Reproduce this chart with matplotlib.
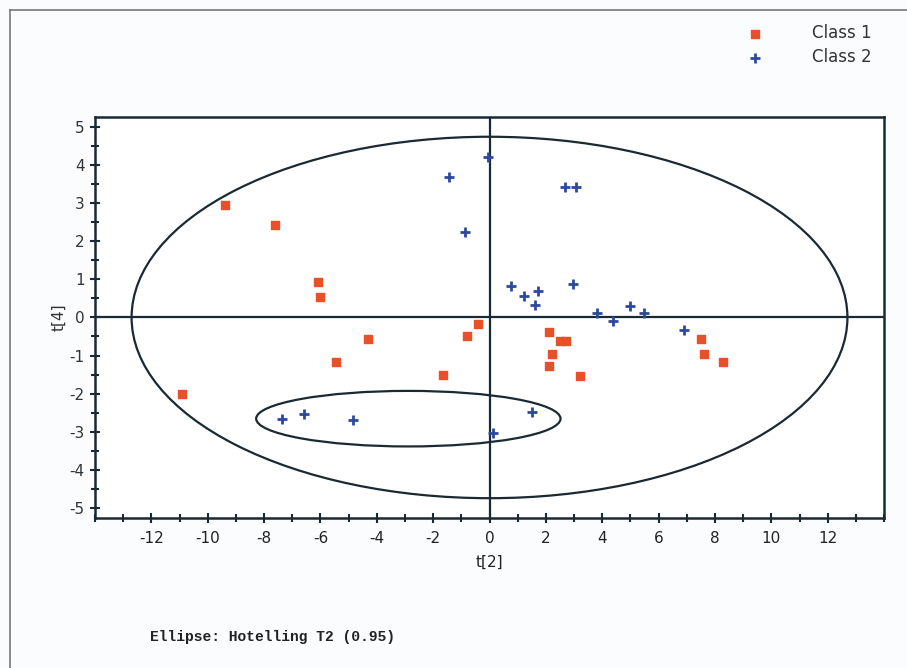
import numpy as np
import matplotlib.pyplot as plt
from matplotlib.patches import Ellipse

plt.rcParams['axes.unicode_minus'] = False

# class 1 scores (t[2], t[4])
class1_t2 = [-10.9, -9.4, -7.6, -6.1, -6.0, -5.45, -4.3, -1.65, -0.8, -0.4,
             2.1, 2.2, 2.1, 2.5, 2.7, 3.2, 7.5, 7.6, 8.3]
class1_t4 = [-2.0, 2.95, 2.43, 0.94, 0.55, -1.17, -0.57, -1.51, -0.5, -0.16,
             -0.39, -0.97, -1.28, -0.63, -0.63, -1.54, -0.57, -0.97, -1.17]

# class 2 scores
class2_t2 = [-0.07, -1.42, -0.88, 2.69, 3.08, 0.78, 1.24, 1.73, 1.63, 2.97,
             3.82, 4.39, 4.99, 5.49, 6.9, 1.52, 0.14, -7.36, -6.58, -4.85]
class2_t4 = [4.23, 3.68, 2.25, 3.42, 3.42, 0.84, 0.57, 0.7, 0.34, 0.89,
             0.13, -0.08, 0.29, 0.13, -0.34, -2.48, -3.03, -2.66, -2.53, -2.69]

# hotelling ellipse and the small class 2 ellipse: centre, width, height
big_ellipse = (0.0, 0.0, 25.4, 9.5)
small_ellipse = (-2.88, -2.66, 10.8, 1.46)

orange = '#e8502a'
blue = '#2b4a9c'

fig = plt.figure(figsize=(9.07, 6.68), dpi=100)
fig.patch.set_facecolor('#fbfcfe')
ax = fig.add_axes([0.1047, 0.2246, 0.87, 0.6003])
ax.set_facecolor('white')

# frame line on top and left of the page
fig.add_artist(plt.Line2D([10 / 907, 1], [1 - 10 / 668, 1 - 10 / 668],
                          transform=fig.transFigure, color='#777777', lw=1.2))
fig.add_artist(plt.Line2D([10 / 907, 10 / 907], [0, 1 - 10 / 668],
                          transform=fig.transFigure, color='#777777', lw=1.2))

ax.axhline(0, color='#1a2a33', lw=1.6, zorder=1)
ax.axvline(0, color='#1a2a33', lw=1.6, zorder=1)

for cx, cy, w, h in [big_ellipse, small_ellipse]:
    ax.add_patch(Ellipse((cx, cy), w, h, fill=False, ec='#1a2a33', lw=1.6, zorder=2))

ax.scatter(class1_t2, class1_t4, marker='s', s=32, color=orange, zorder=3, label='Class 1')
ax.scatter(class2_t2, class2_t4, marker='+', s=50, linewidths=2, color=blue, zorder=3,
           label='Class 2')

ax.set_xlim(-14, 14)
ax.set_ylim(-5.27, 5.27)
ax.set_xticks(np.arange(-12, 13, 2))
ax.set_xticks(np.arange(-14, 15, 1), minor=True)
ax.set_yticks(np.arange(-5, 6, 1))
ax.set_yticks(np.arange(-5, 5.5, 0.5), minor=True)
ax.tick_params(which='both', direction='inout', color='#1a2a33', width=1.5, length=7)
ax.tick_params(which='minor', length=6)
ax.tick_params(axis='x', pad=6, labelsize=11, labelcolor='#222222')
ax.tick_params(axis='y', pad=4, labelsize=11, labelcolor='#333333')
ax.tick_params(right=False, top=False)
for sp in ax.spines.values():
    sp.set_color('#1a2a33')
    sp.set_linewidth(1.8)

ax.set_xlabel('t[2]', fontsize=11, labelpad=6, color='#222222')
ax.set_ylabel('t[4]', fontsize=11, labelpad=2, color='#333333')

ax.legend(loc='upper left', bbox_to_anchor=(734 / 907, 1 - 16 / 668),
          bbox_transform=fig.transFigure, frameon=False, fontsize=12,
          handletextpad=2.7, labelspacing=0.35, borderpad=0, handlelength=1.5,
          labelcolor='#333333')

fig.text(150 / 907, 1 - 637 / 668, 'Ellipse: Hotelling T2 (0.95)', family='Liberation Mono',
         weight='bold', fontsize=10.5, va='center', color='#222222')

fig.savefig('out.png', dpi=100, facecolor=fig.get_facecolor())
